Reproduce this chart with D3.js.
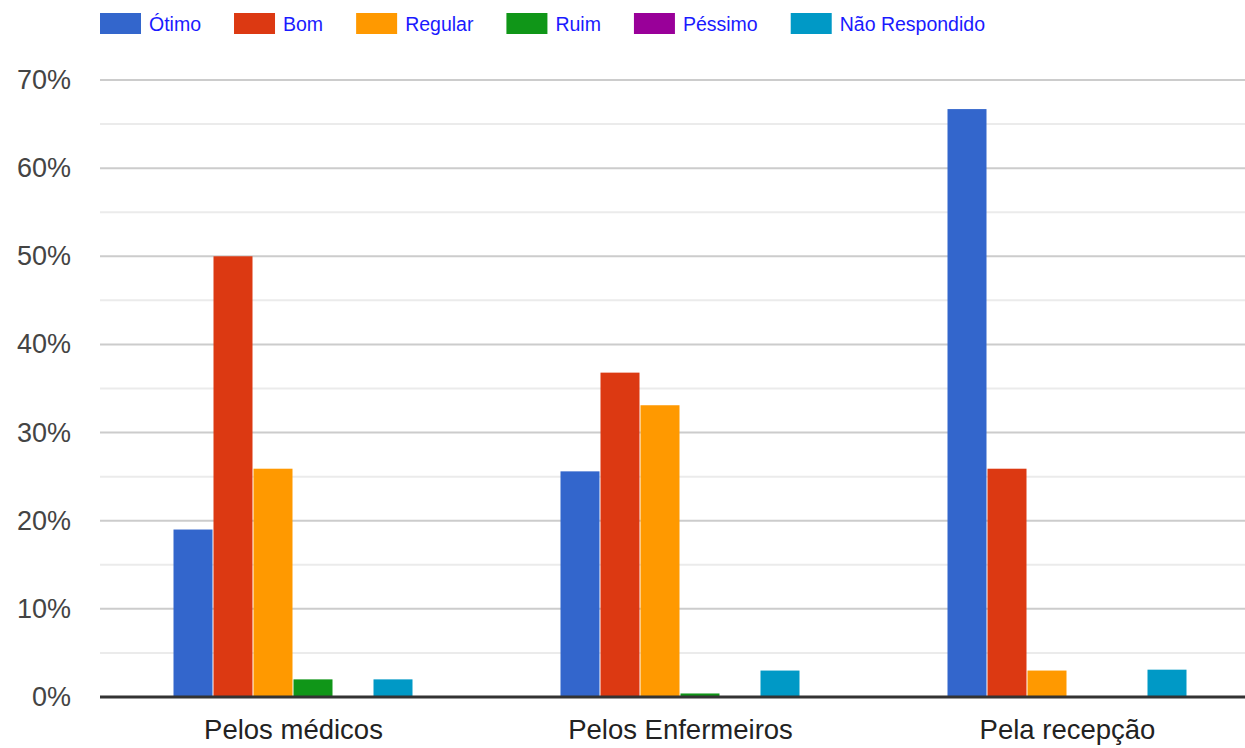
<!DOCTYPE html>
<html>
<head>
<meta charset="utf-8">
<script src="https://cdn.jsdelivr.net/npm/d3@7"></script>
<style>
  html, body { margin: 0; padding: 0; background: #fff; overflow: hidden; }
  svg { display: block; font-family: Arial, "Liberation Sans", sans-serif; }
</style>
</head>
<body>
<svg id="chart" width="1245" height="748"></svg>
<script>
const categories = ["Pelos médicos", "Pelos Enfermeiros", "Pela recepção"];
const seriesNames = ["Ótimo", "Bom", "Regular", "Ruim", "Péssimo", "Não Respondido"];
const seriesColors = ["#3366cc", "#dc3912", "#ff9900", "#109618", "#990099", "#0099c6"];
// values in percent, per series, one per category
const otimo = [19.0, 25.6, 66.7];
const bom = [50.0, 36.8, 25.9];
const regular = [25.9, 33.1, 3.0];
const ruim = [2.0, 0.4, 0];
const pessimo = [0, 0, 0];
const naoRespondido = [2.0, 3.0, 3.1];
const yTicks = [0, 10, 20, 30, 40, 50, 60, 70];
const yMinorTicks = [5, 15, 25, 35, 45, 55, 65];

const seriesValues = [otimo, bom, regular, ruim, pessimo, naoRespondido];

const svg = d3.select("#chart");
const plotLeft = 100, plotRight = 1261, plotTop = 80, plotBottom = 697;

const y = d3.scaleLinear().domain([0, 70]).range([plotBottom, plotTop]);
const x0 = d3.scaleBand().domain(categories).range([plotLeft, plotRight]).padding(0);
const groupWidth = 240;
const x1 = d3.scaleBand().domain(seriesNames).range([0, groupWidth]).padding(0);

// minor gridlines
svg.append("g").selectAll("line").data(yMinorTicks).join("line")
  .attr("x1", plotLeft).attr("x2", plotRight)
  .attr("y1", d => y(d)).attr("y2", d => y(d))
  .attr("stroke", "#ebebeb").attr("stroke-width", 2);

// major gridlines
svg.append("g").selectAll("line").data(yTicks.filter(d => d !== 0)).join("line")
  .attr("x1", plotLeft).attr("x2", plotRight)
  .attr("y1", d => y(d)).attr("y2", d => y(d))
  .attr("stroke", "#cccccc").attr("stroke-width", 2);

// y labels
svg.append("g").selectAll("text").data(yTicks).join("text")
  .attr("x", 71).attr("y", d => y(d))
  .attr("text-anchor", "end").attr("dominant-baseline", "central")
  .attr("font-size", 27).attr("fill", "#444")
  .text(d => d + "%");

// bars
const groups = svg.append("g").selectAll("g").data(categories).join("g")
  .attr("transform", c => `translate(${x0(c) + (x0.bandwidth() - groupWidth) / 2},0)`);

groups.selectAll("rect")
  .data((c, ci) => seriesNames.map((s, si) => ({ s, si, v: seriesValues[si][ci] })))
  .join("rect")
  .filter(d => d.v > 0)
  .attr("x", d => x1(d.s))
  .attr("width", x1.bandwidth() - 1)
  .attr("y", d => y(d.v))
  .attr("height", d => plotBottom - y(d.v))
  .attr("fill", d => seriesColors[d.si]);

// baseline
svg.append("line")
  .attr("x1", plotLeft).attr("x2", plotRight)
  .attr("y1", y(0)).attr("y2", y(0))
  .attr("stroke", "#333").attr("stroke-width", 3);

// x labels
svg.append("g").selectAll("text").data(categories).join("text")
  .attr("x", c => x0(c) + x0.bandwidth() / 2)
  .attr("y", 739)
  .attr("text-anchor", "middle")
  .attr("font-size", 27.5).attr("fill", "#222")
  .text(c => c);

// legend
const legend = svg.append("g");
let lx = 100;
seriesNames.forEach((name, i) => {
  legend.append("rect").attr("x", lx).attr("y", 13).attr("width", 41).attr("height", 21)
    .attr("fill", seriesColors[i]);
  const t = legend.append("text").attr("x", lx + 49).attr("y", 23.5)
    .attr("dominant-baseline", "central")
    .attr("font-size", 19.5).attr("fill", "#1a1aff").text(name);
  lx += 49 + t.node().getComputedTextLength() + 33;
});
</script>
</body>
</html>
